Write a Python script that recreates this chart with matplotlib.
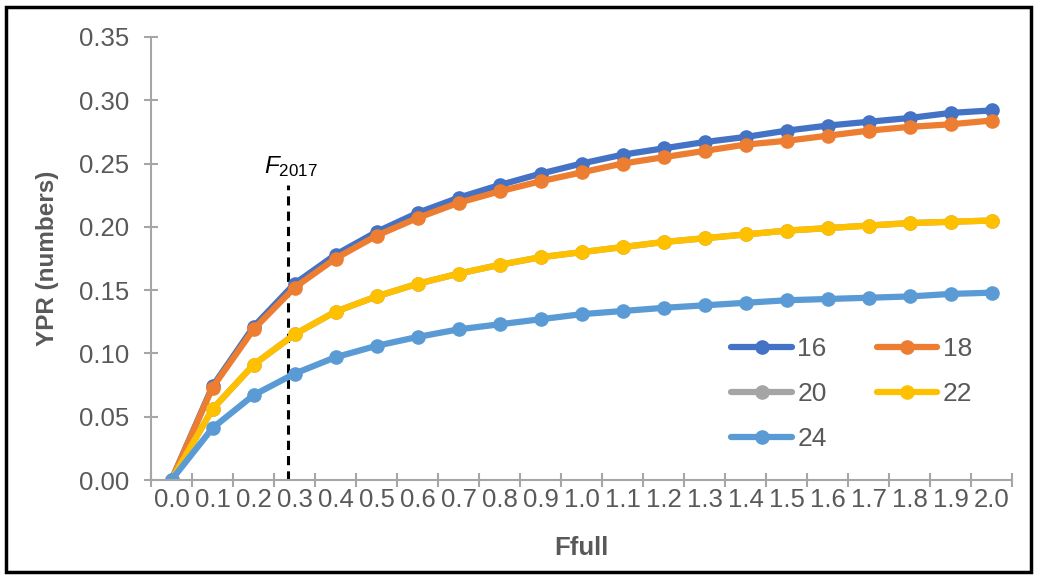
import matplotlib
matplotlib.use('Agg')
import matplotlib.pyplot as plt
from matplotlib.patches import Rectangle

plt.rcParams['font.family'] = ['Liberation Sans', 'DejaVu Sans']
plt.rcParams['mathtext.fontset'] = 'custom'
plt.rcParams['mathtext.it'] = 'Liberation Sans:italic'
plt.rcParams['mathtext.rm'] = 'Liberation Sans'

ffull = ['0.0', '0.1', '0.2', '0.3', '0.4', '0.5', '0.6', '0.7', '0.8', '0.9', '1.0',
         '1.1', '1.2', '1.3', '1.4', '1.5', '1.6', '1.7', '1.8', '1.9', '2.0']

ypr16 = [0, 0.074, 0.121, 0.155, 0.178, 0.196, 0.211, 0.223, 0.233, 0.242, 0.250,
         0.257, 0.262, 0.267, 0.271, 0.276, 0.280, 0.283, 0.286, 0.290, 0.292]
ypr18 = [0, 0.073, 0.119, 0.152, 0.175, 0.193, 0.207, 0.219, 0.228, 0.236, 0.243,
         0.250, 0.255, 0.260, 0.265, 0.268, 0.272, 0.276, 0.279, 0.281, 0.284]
ypr20 = [0, 0.056, 0.091, 0.115, 0.133, 0.145, 0.155, 0.163, 0.170, 0.176, 0.180,
         0.184, 0.188, 0.191, 0.194, 0.197, 0.199, 0.201, 0.203, 0.204, 0.205]
ypr22 = [0, 0.056, 0.091, 0.115, 0.133, 0.145, 0.155, 0.163, 0.170, 0.176, 0.180,
         0.184, 0.188, 0.191, 0.194, 0.197, 0.199, 0.201, 0.203, 0.204, 0.205]
ypr24 = [0, 0.041, 0.067, 0.084, 0.097, 0.106, 0.113, 0.119, 0.123, 0.127, 0.131,
         0.1335, 0.136, 0.138, 0.140, 0.142, 0.143, 0.144, 0.145, 0.147, 0.148]

series = [('16', ypr16, '#4472C4'), ('18', ypr18, '#ED7D31'), ('20', ypr20, '#A5A5A5'),
          ('22', ypr22, '#FFC000'), ('24', ypr24, '#5B9BD5')]

f2017 = 2.85  # category position of F2017 line

fig = plt.figure(figsize=(10.39, 5.77), dpi=100)
ax = fig.add_axes([151/1039, 1-480/577, (1012-151)/1039, (480-37)/577])

x = list(range(len(ffull)))
lines = {}
for name, vals, col in series:
    l, = ax.plot(x, vals, color=col, lw=4.5, marker='o', ms=9.5, label=name,
                 solid_capstyle='round')
    lines[name] = l

ax.plot([f2017, f2017], [0, 0.233], color='black', lw=2.2, ls=(0, (3, 2)), zorder=1)
ax.text(f2017 + 0.07, 0.238, r'$F_{\rm 2017}$', fontsize=17.5, ha='center', va='bottom')

ax.set_xlim(-0.5, len(ffull) - 0.5)
ax.set_ylim(0, 0.35)
ax.set_yticks([0, 0.05, 0.10, 0.15, 0.20, 0.25, 0.30, 0.35])
ax.set_yticklabels(['%.2f' % v for v in ax.get_yticks()])
ax.set_xticks([i - 0.5 for i in range(len(ffull) + 1)])
ax.set_xticklabels([])
ax.set_xticks(x, minor=True)
ax.set_xticklabels(ffull, minor=True)

grey = '#A6A6A6'
tcol = '#595959'
for s in ['top', 'right']:
    ax.spines[s].set_visible(False)
for s in ['left', 'bottom']:
    ax.spines[s].set_color(grey)
    ax.spines[s].set_linewidth(1.5)
ax.tick_params(axis='both', which='major', direction='inout', length=10, width=1.5,
               color=grey, labelsize=18.5, labelcolor=tcol)
ax.tick_params(axis='y', pad=11)
ax.tick_params(axis='x', which='minor', length=0, pad=6, labelsize=18.5, labelcolor=tcol)

ax.set_ylabel('YPR (numbers)', fontsize=17.5, fontweight='bold', color=tcol, labelpad=14)
ax.set_xlabel('Ffull', fontsize=18.5, fontweight='bold', color=tcol, labelpad=17)

order = ['16', '20', '24', '18', '22']
ax.legend([lines[k] for k in order], order, ncol=2, frameon=False, fontsize=19,
          loc='upper left', bbox_to_anchor=(718/1039, 1-324/577), bbox_transform=fig.transFigure,
          borderpad=0, handlelength=2.3, handletextpad=0.2, columnspacing=1.9,
          labelspacing=0.8, labelcolor=tcol)

fig.patches.append(Rectangle((6/1039, 5/577), 1025/1039, 565/577, transform=fig.transFigure,
                             fill=False, edgecolor='black', lw=2.5))

fig.savefig('out.png', dpi=100)
